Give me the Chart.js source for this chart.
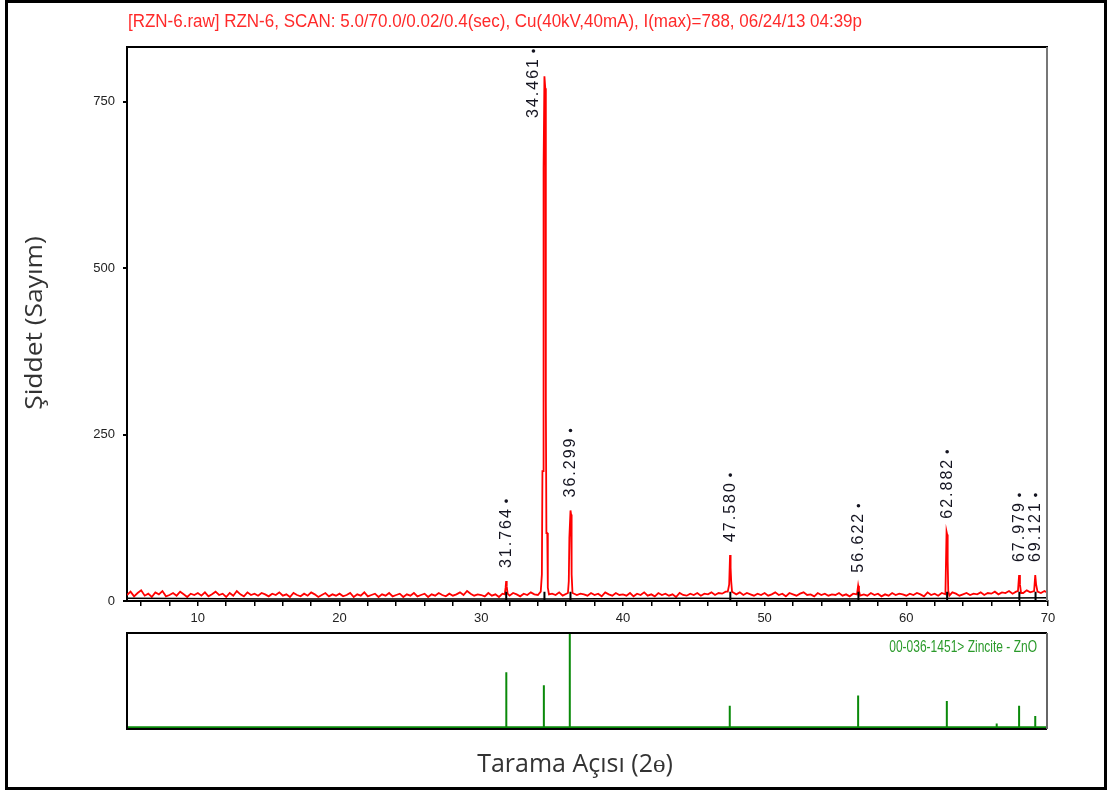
<!DOCTYPE html>
<html>
<head>
<meta charset="utf-8">
<title>RZN-6 XRD</title>
<script src="https://cdn.jsdelivr.net/npm/chart.js@4.4.1/dist/chart.umd.min.js"></script>
<style>
  html, body { margin: 0; padding: 0; background: #fff; }
  #page { position: relative; width: 1113px; height: 791px; overflow: hidden; background: #fff; }
  #mainChart { position: absolute; left: 0; top: 0; }
  #refChart { position: absolute; left: 0; top: 625px; }
  #frame { position: absolute; left: 5px; top: 0; width: 1102px; height: 790px; border: 3px solid #000; box-sizing: border-box; pointer-events: none; }
</style>
</head>
<body>
<div id="page">
  <canvas id="mainChart" width="1113" height="625"></canvas>
  <canvas id="refChart" width="1113" height="166"></canvas>
  <div id="frame"></div>
</div>
<script>
// ============================
// Data
// ============================
const headerText = "[RZN-6.raw] RZN-6, SCAN: 5.0/70.0/0.02/0.4(sec), Cu(40kV,40mA), I(max)=788, 06/24/13 04:39p";
const yTitle = "Şiddet (Sayım)";
const xTitle = "Tarama Açısı (2ɵ)";
const refCardText = "00-036-1451> Zincite - ZnO";

// scan grid (every 0.25 deg from 5 to 70)
const baseStart = 5;
const baseStep = 0.25;
const baseCounts = [
  9, 14, 7, 12, 16, 8, 11, 6, 13, 10, 15, 7, 9, 12, 8, 14, 10, 6, 11, 9,
  12, 8, 13, 7, 10, 14, 9, 11, 6, 12, 8, 15, 10, 7, 13, 9, 11, 8, 12, 10,
  7, 11, 9, 13, 8, 10, 6, 12, 9, 7, 11, 8, 13, 10, 6, 9, 12, 7, 10, 8,
  11, 7, 9, 12, 6, 10, 8, 13, 7, 9, 11, 6, 10, 8, 12, 7, 9, 11, 6, 10,
  8, 12, 7, 9, 11, 6, 10, 8, 12, 9, 7, 11, 8, 10, 13, 9, 15, 11, 8, 10,
  9, 7, 12, 8, 10, 6, 11, 9, 8, 12, 10, 7, 11, 9, 13, 10, 9, 12, 10, 8,
  11, 9, 13, 8, 10, 12, 7, 9, 11, 10, 8, 12, 9, 11, 7, 13, 10, 8, 12, 9,
  10, 8, 12, 7, 11, 9, 13, 8, 10, 7, 12, 9, 11, 8, 10, 6, 12, 9, 8, 11,
  9, 12, 8, 11, 10, 13, 9, 12, 11, 14, 13, 12, 10, 13, 9, 12, 10, 8, 11, 9,
  12, 8, 10, 13, 9, 11, 7, 12, 10, 8, 11, 13, 9, 10, 7, 12, 9, 11, 8, 10,
  9, 12, 8, 10, 7, 11, 9, 13, 10, 8, 12, 9, 11, 7, 10, 8, 12, 9, 11, 10,
  8, 11, 9, 12, 10, 7, 13, 9, 11, 8, 12, 10, 9, 13, 11, 8, 10, 12, 9, 11,
  10, 13, 9, 12, 11, 14, 10, 13, 12, 15, 11, 14, 13, 12, 16, 13, 11, 14, 12, 15,
  12
];

// peak profiles
const peakAngles = [
  31.66, 31.72, 31.76, 31.80, 31.86,
  34.20, 34.28, 34.32, 34.36, 34.40, 34.46, 34.52, 34.56, 34.60, 34.66, 34.70, 34.78,
  36.12, 36.18, 36.22, 36.26, 36.30, 36.34, 36.38, 36.44,
  47.40, 47.50, 47.56, 47.60, 47.64, 47.70,
  56.52, 56.60, 56.66, 56.74,
  62.76, 62.84, 62.88, 62.92, 62.96, 63.04,
  67.88, 67.96, 68.02, 68.10,
  69.02, 69.10, 69.16, 69.26
];
const peakCounts = [
  10, 20, 30, 22, 11,
  14, 40, 195, 195, 650, 788, 770, 300, 102, 102, 20, 10,
  12, 30, 95, 95, 136, 130, 40, 12,
  14, 25, 69, 50, 30, 14,
  10, 23, 15, 8,
  10, 104, 100, 60, 15, 8,
  15, 39, 25, 12,
  15, 39, 25, 14
];

// fitted background (black)
const bgAngles = [5, 15, 25, 35, 45, 55, 65, 70];
const bgCounts = [4, 3, 3, 3, 4, 3, 4, 5];

// labelled peaks
const labelAngles = [31.764, 34.461, 36.299, 47.580, 56.622, 62.882, 67.979, 69.121];
const labelCounts = [30, 788, 136, 69, 23, 104, 39, 39];

// reference card 00-036-1451 (ZnO), relative intensity
const refAngles = [31.77, 34.42, 36.25, 47.54, 56.60, 62.86, 66.38, 67.96, 69.10];
const refIntensity = [59, 45, 100, 23, 34, 28, 4, 23, 12];

// axes
const xTickLabels = [10, 20, 30, 40, 50, 60, 70];
const yTickValues = [0, 250, 500, 750];

// ============================
// Build datasets
// ============================
function buildScan() {
    const pts = [];
    baseCounts.forEach((c, i) => {
        const a = baseStart + i * baseStep;
        if (peakAngles.some(p => Math.abs(p - a) < 0.12)) return;
        pts.push({ x: a, y: c });
    });
    peakAngles.forEach((a, i) => pts.push({ x: a, y: peakCounts[i] }));
    return pts.sort((p, q) => p.x - q.x);
}

const markerData = [];
labelAngles.forEach(a => {
    markerData.push({ x: a, y: 0 }, { x: a, y: 14 }, { x: a, y: null });
});

const stickData = [{ x: 5, y: 0 }];
refAngles.forEach((a, i) => {
    stickData.push({ x: a, y: 0 }, { x: a, y: refIntensity[i] }, { x: a, y: 0 });
});
stickData.push({ x: 70, y: 0 });

const minorTicks = [];
for (let v = 6; v <= 70; v += 2) minorTicks.push(v);

// ============================
// Plugins (text + frames)
// ============================
const mainDecor = {
    id: "mainDecor",
    afterDraw(chart) {
        const ctx = chart.ctx;
        const area = chart.chartArea;
        const xs = chart.scales.x;
        const ys = chart.scales.y;

        // top + right frame
        ctx.save();
        ctx.lineWidth = 2;
        ctx.strokeStyle = "#000";
        ctx.beginPath();
        ctx.moveTo(area.left - 1, area.top);
        ctx.lineTo(area.right, area.top);
        ctx.stroke();
        ctx.strokeStyle = "#777";
        ctx.beginPath();
        ctx.moveTo(area.right - 1, area.top);
        ctx.lineTo(area.right - 1, area.bottom);
        ctx.stroke();
        ctx.restore();

        // header
        ctx.save();
        ctx.font = "15px Arial";
        ctx.fillStyle = "#ff2a2a";
        ctx.textBaseline = "middle";
        const w = ctx.measureText(headerText).width;
        ctx.translate(128, 22);
        ctx.scale(734 / w, 1.25);
        ctx.fillText(headerText, 0, 0);
        ctx.restore();

        // y title
        ctx.save();
        ctx.font = "24px 'Open Sans'";
        ctx.fillStyle = "#333";
        ctx.textAlign = "center";
        ctx.textBaseline = "middle";
        ctx.translate(35, 323);
        ctx.rotate(-Math.PI / 2);
        ctx.scale(1.1, 1);
        ctx.fillText(yTitle, 0, 0);
        ctx.restore();

        // peak labels
        ctx.save();
        ctx.font = "16px Arial";
        ctx.letterSpacing = "2px";
        ctx.fillStyle = "#141420";
        labelAngles.forEach((a, i) => {
            const txt = a.toFixed(3);
            const len = ctx.measureText(txt).width;
            let cx = xs.getPixelForValue(a);
            let bottom = ys.getPixelForValue(labelCounts[i]) - 13;
            if (bottom - len - 12 < area.top) {
                bottom = area.top + 10 + len;
                cx -= 11;
            }
            ctx.save();
            ctx.translate(cx, bottom);
            ctx.rotate(-Math.PI / 2);
            ctx.textAlign = "left";
            ctx.textBaseline = "middle";
            ctx.fillText(txt, 0, 0);
            ctx.beginPath();
            ctx.arc(len + 6, 0, 1.8, 0, Math.PI * 2);
            ctx.fill();
            ctx.restore();
        });
        ctx.restore();
    }
};

const refDecor = {
    id: "refDecor",
    afterDraw(chart) {
        const ctx = chart.ctx;
        const area = chart.chartArea;

        ctx.save();
        ctx.lineWidth = 2;
        ctx.strokeStyle = "#000";
        ctx.beginPath();
        ctx.moveTo(area.right - 1, area.top);
        ctx.lineTo(area.left, area.top);
        ctx.lineTo(area.left, area.bottom);
        ctx.lineTo(area.right - 1, area.bottom);
        ctx.stroke();
        ctx.strokeStyle = "#666";
        ctx.beginPath();
        ctx.moveTo(area.right - 1, area.top);
        ctx.lineTo(area.right - 1, area.bottom);
        ctx.stroke();

        // card label
        ctx.font = "12px Arial";
        ctx.fillStyle = "#2a9a2a";
        ctx.textAlign = "right";
        ctx.textBaseline = "middle";
        ctx.save();
        ctx.translate(area.right - 11, area.top + 15);
        ctx.scale(1, 1.3);
        ctx.fillText(refCardText, 0, 0);
        ctx.restore();

        // x title
        ctx.font = "25px 'Open Sans'";
        ctx.fillStyle = "#333";
        ctx.textAlign = "center";
        ctx.fillText(xTitle, 575, 140);
        ctx.restore();
    }
};

// ============================
// Main scan chart
// ============================
new Chart(document.getElementById("mainChart"), {
    type: "line",
    data: {
        datasets: [
            {
                label: "background",
                data: bgAngles.map((a, i) => ({ x: a, y: bgCounts[i] })),
                borderColor: "#000",
                borderWidth: 1.5,
                pointRadius: 0,
                order: 0
            },
            {
                label: "markers",
                data: markerData,
                borderColor: "#000",
                borderWidth: 2,
                pointRadius: 0,
                spanGaps: false,
                order: 0
            },
            {
                label: "RZN-6",
                data: buildScan(),
                borderColor: "#ff0000",
                borderWidth: 1.8,
                pointRadius: 0,
                order: 1
            }
        ]
    },
    options: {
        responsive: false,
        animation: false,
        events: [],
        elements: { line: { tension: 0 } },
        layout: { padding: { left: 0, right: 65, top: 47, bottom: 0 } },
        plugins: { legend: { display: false }, tooltip: { enabled: false } },
        scales: {
            x: {
                type: "linear",
                min: 5,
                max: 70,
                afterFit(s) { s.height = 24; },
                afterBuildTicks(s) { s.ticks = minorTicks.map(v => ({ value: v })); },
                ticks: {
                    autoSkip: false,
                    maxRotation: 0,
                    padding: 5,
                    color: "#222",
                    font: { family: "Arial", size: 13 },
                    callback: v => xTickLabels.includes(v) ? String(v) : ""
                },
                grid: { drawOnChartArea: false, tickLength: 5, color: "#000", lineWidth: 1.5 },
                border: { color: "#000", width: 2 }
            },
            y: {
                type: "linear",
                min: 0,
                max: 832,
                afterFit(s) { s.width = 127; },
                afterBuildTicks(s) { s.ticks = yTickValues.map(v => ({ value: v })); },
                ticks: {
                    padding: 8,
                    color: "#222",
                    font: { family: "Arial", size: 13 }
                },
                grid: { drawOnChartArea: false, tickLength: 4, color: "#000", lineWidth: 2 },
                border: { color: "#000", width: 2 }
            }
        }
    },
    plugins: [mainDecor]
});

// ============================
// Reference pattern panel
// ============================
new Chart(document.getElementById("refChart"), {
    type: "line",
    data: {
        datasets: [{
            label: "ZnO",
            data: stickData,
            borderColor: "#0a8a0a",
            borderWidth: 2,
            pointRadius: 0
        }]
    },
    options: {
        responsive: false,
        animation: false,
        events: [],
        elements: { line: { tension: 0 } },
        layout: { padding: { left: 127, right: 65, top: 8, bottom: 62 } },
        plugins: { legend: { display: false }, tooltip: { enabled: false } },
        scales: {
            x: { type: "linear", min: 5, max: 70, display: false },
            y: { type: "linear", min: -2, max: 101, display: false }
        }
    },
    plugins: [refDecor]
});
</script>
</body>
</html>
